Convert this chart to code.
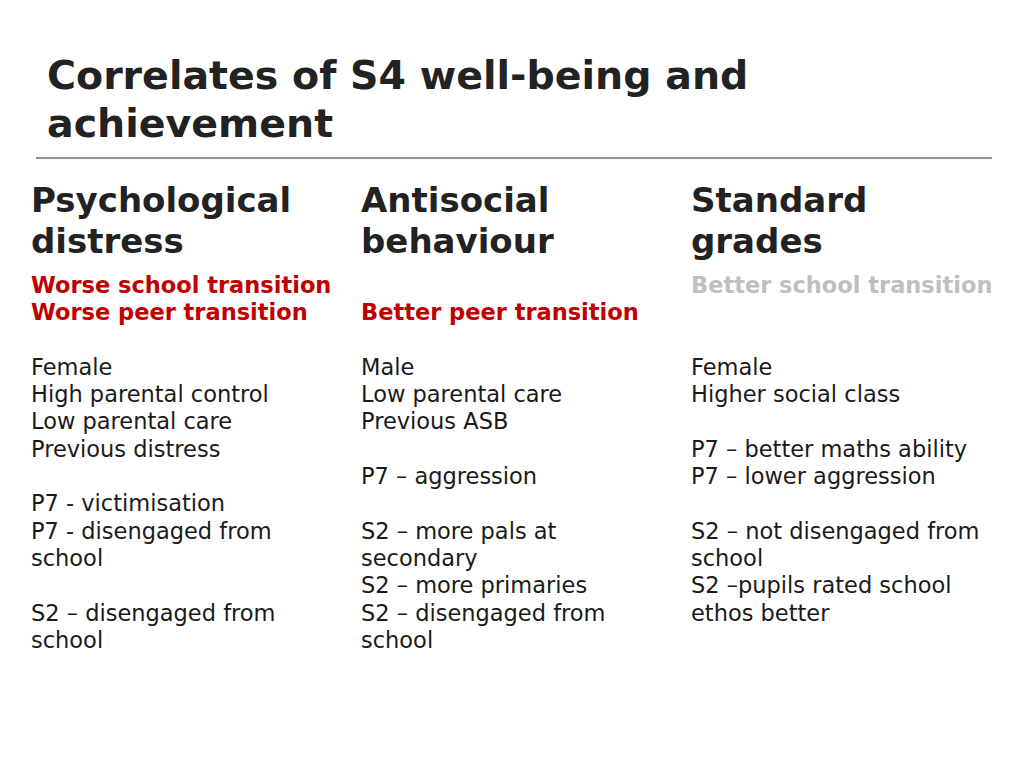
<!DOCTYPE html>
<html><head><meta charset="utf-8">
<script src="https://cdn.jsdelivr.net/npm/chart.js@4"></script>
<style>
body{margin:0;width:1024px;height:768px;background:#fff;font-family:"DejaVu Sans",Verdana,sans-serif;color:#1a1a1a;position:relative;overflow:hidden}
#title{position:absolute;left:47px;top:51px;font-weight:bold;font-size:39.5px;line-height:48px;color:#222}
#rule{position:absolute;left:36px;top:157px;width:956px;height:2px;background:#a58a86}
.col{position:absolute;top:180px}
.head{font-weight:bold;font-size:34px;line-height:41px;color:#222;height:92px}
.row{font-size:22.5px;line-height:27.3px;height:27.3px;white-space:nowrap}
.sub{font-weight:bold}
</style></head><body>
<div id="title">Correlates of S4 well-being and<br>achievement</div>
<div id="rule"></div>
<div id="cols"></div>
<script>
const headers=["Psychological<br>distress","Antisocial<br>behaviour","Standard<br>grades"];
const subColors=["#c00000","#c00000","#bfbfbf"];
const col1=["Worse school transition","Worse peer transition","","Female","High parental control","Low parental care","Previous distress","","P7 - victimisation","P7 - disengaged from","school","","S2 – disengaged from","school"];
const col2=["","Better peer transition","","Male","Low parental care","Previous ASB","","P7 – aggression","","S2 – more pals at","secondary","S2 – more primaries","S2 – disengaged from","school"];
const col3=["Better school transition","","","Female","Higher social class","","P7 – better maths ability","P7 – lower aggression","","S2 – not disengaged from","school","S2 –pupils rated school","ethos better",""];
const lefts=[31,361,691];
const cols=[col1,col2,col3];
const root=document.getElementById('cols');
cols.forEach((c,i)=>{
  const d=document.createElement('div');d.className='col';d.style.left=lefts[i]+'px';
  let h='<div class="head">'+headers[i]+'</div>';
  c.forEach((t,j)=>{
    h+='<div class="row'+(j<2?' sub':'')+'"'+(j<2?' style="color:'+subColors[i]+'"':'')+'>'+t+'</div>';
  });
  d.innerHTML=h;root.appendChild(d);
});
</script>
</body></html>
